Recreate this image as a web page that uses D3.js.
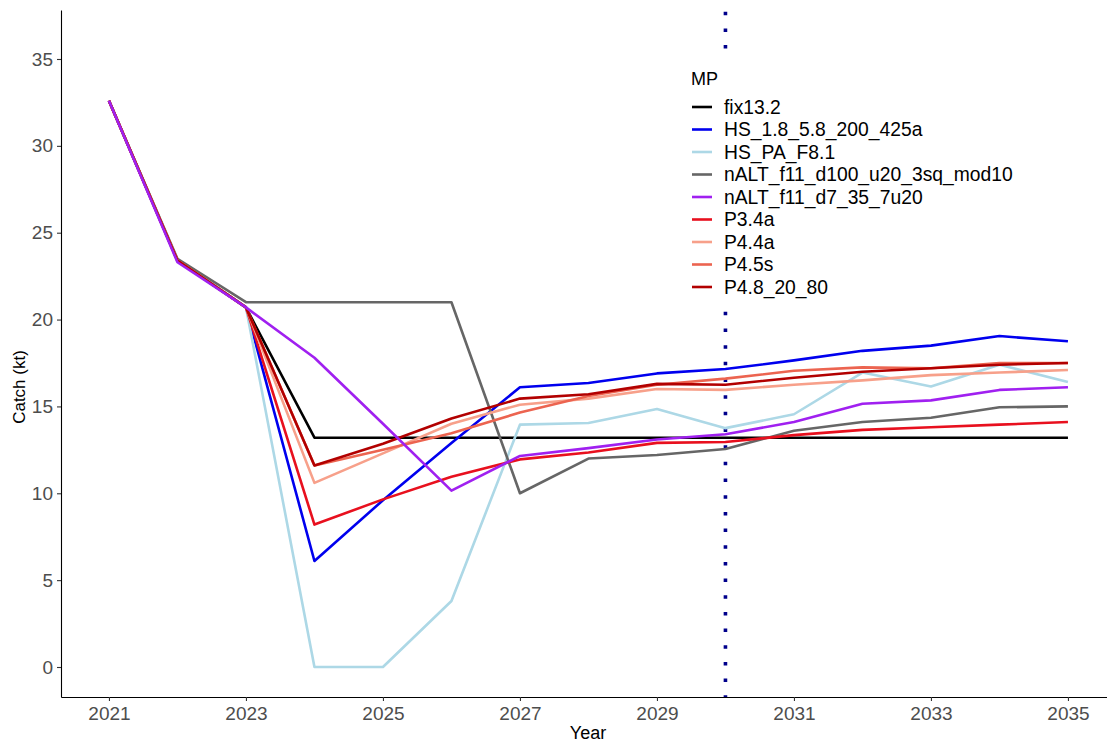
<!DOCTYPE html>
<html>
<head>
<meta charset="utf-8">
<script src="https://cdn.jsdelivr.net/npm/d3@7"></script>
<style>
  html, body { margin: 0; padding: 0; background: #fff; }
  svg { display: block; font-family: "Liberation Sans", Arial, sans-serif; }
</style>
</head>
<body>
<svg id="chart" width="1107" height="744"></svg>
<script>
// Projected catch (kt) by management procedure
const years = [2021, 2022, 2023, 2024, 2025, 2026, 2027, 2028, 2029, 2030, 2031, 2032, 2033, 2034, 2035];

const mpNames = [
  "fix13.2",
  "HS_1.8_5.8_200_425a",
  "HS_PA_F8.1",
  "nALT_f11_d100_u20_3sq_mod10",
  "nALT_f11_d7_35_7u20",
  "P3.4a",
  "P4.4a",
  "P4.5s",
  "P4.8_20_80"
];

const fix13_2     = [32.6, 23.4, 20.7, 13.2, 13.2, 13.2, 13.2, 13.2, 13.2, 13.2, 13.2, 13.2, 13.2, 13.2, 13.2];
const hs_1_8      = [32.6, 23.4, 20.7, 6.1, 9.6, 12.9, 16.1, 16.35, 16.9, 17.15, 17.65, 18.2, 18.5, 19.05, 18.75];
const hs_pa_f8_1  = [32.6, 23.4, 20.7, 0.0, 0.0, 3.8, 13.95, 14.05, 14.85, 13.75, 14.55, 16.95, 16.15, 17.4, 16.4];
const nalt_d100   = [32.6, 23.5, 21.0, 21.0, 21.0, 21.0, 10.0, 12.0, 12.2, 12.55, 13.6, 14.1, 14.35, 14.95, 15.0];
const nalt_d7     = [32.6, 23.3, 20.7, 17.8, 14.0, 10.15, 12.15, 12.6, 13.1, 13.4, 14.1, 15.15, 15.35, 15.95, 16.1];
const p3_4a       = [32.6, 23.4, 20.7, 8.2, 9.65, 10.95, 11.95, 12.35, 12.9, 12.95, 13.35, 13.65, 13.8, 13.95, 14.1];
const p4_4a       = [32.6, 23.4, 20.7, 10.6, 12.3, 14.0, 15.1, 15.45, 16.0, 15.95, 16.25, 16.5, 16.8, 16.95, 17.1];
const p4_5s       = [32.6, 23.4, 20.7, 11.6, 12.5, 13.45, 14.65, 15.6, 16.25, 16.6, 17.05, 17.25, 17.2, 17.5, 17.5];
const p4_8_20_80  = [32.6, 23.4, 20.7, 11.6, 12.85, 14.3, 15.45, 15.7, 16.3, 16.25, 16.65, 17.0, 17.2, 17.4, 17.5];

const seriesValues = [fix13_2, hs_1_8, hs_pa_f8_1, nalt_d100, nalt_d7, p3_4a, p4_4a, p4_5s, p4_8_20_80];
const mpColors = ["#000000", "#0000EE", "#ADD8E6", "#666666", "#A020F0", "#E8101E", "#F7A08A", "#EC6450", "#B20000"];
// stacking order of the lines (purple sits on top)
const drawOrder = [0, 1, 2, 3, 5, 6, 7, 8, 4];

const yTicks = [0, 5, 10, 15, 20, 25, 30, 35];
const xTicks = [2021, 2023, 2025, 2027, 2029, 2031, 2033, 2035];
const markerYear = 2030;

const svg = d3.select("#chart");

const x = d3.scaleLinear().domain([2020.3, 2035.7]).range([61, 1115.9]);
const y = d3.scaleLinear().domain([-1.727, 37.82]).range([697, 10]);

// vertical dotted reference line
svg.append("line")
  .attr("x1", x(markerYear)).attr("x2", x(markerYear))
  .attr("y1", y.range()[0]).attr("y2", y.range()[1])
  .attr("stroke", "#00008B")
  .attr("stroke-width", 3.6)
  .attr("stroke-dasharray", "3.5 13.17")
  .attr("stroke-dashoffset", 1.75);

// series lines
const line = d3.line().x((d, i) => x(years[i])).y(d => y(d));
svg.append("g").selectAll("path")
  .data(drawOrder)
  .join("path")
  .attr("d", k => line(seriesValues[k]))
  .attr("fill", "none")
  .attr("stroke", k => mpColors[k])
  .attr("stroke-width", 2.6)
  .attr("stroke-linejoin", "round");

// axes
const yAxis = svg.append("g")
  .attr("transform", "translate(61,0)")
  .call(d3.axisLeft(y).tickValues(yTicks).tickSize(4).tickPadding(4).tickSizeOuter(0));
const xAxis = svg.append("g")
  .attr("transform", "translate(0,697)")
  .call(d3.axisBottom(x).tickValues(xTicks).tickFormat(d3.format("d")).tickSize(4).tickPadding(6).tickSizeOuter(0));

[yAxis, xAxis].forEach(g => {
  g.select(".domain").attr("stroke", "#000").attr("stroke-width", 1.1);
  g.selectAll(".tick line").attr("stroke", "#333").attr("stroke-width", 1.1);
  g.selectAll(".tick text").attr("fill", "#4D4D4D").style("font-size", "19px")
    .style("font-family", "'Liberation Sans', Arial, sans-serif");
});

// axis titles
svg.append("text")
  .attr("x", 588).attr("y", 739)
  .attr("text-anchor", "middle")
  .style("font-size", "18px")
  .attr("fill", "#000")
  .text("Year");
svg.append("text")
  .attr("transform", "translate(25,387) rotate(-90)")
  .attr("text-anchor", "middle")
  .style("font-size", "17px")
  .attr("fill", "#000")
  .text("Catch (kt)");

// legend with white background
const legend = svg.append("g");
legend.append("rect")
  .attr("x", 680).attr("y", 52)
  .attr("width", 350).attr("height", 247)
  .attr("fill", "#fff");
legend.append("text")
  .attr("x", 691).attr("y", 85)
  .style("font-size", "18px")
  .attr("fill", "#000")
  .text("MP");
const rows = legend.selectAll("g.row")
  .data(mpNames)
  .join("g")
  .attr("class", "row")
  .attr("transform", (d, i) => `translate(0,${107 + i * 22.5})`);
rows.append("line")
  .attr("x1", 692).attr("x2", 712)
  .attr("y1", 0).attr("y2", 0)
  .attr("stroke", (d, i) => mpColors[i])
  .attr("stroke-width", 2.6);
rows.append("text")
  .attr("x", 724).attr("y", 0)
  .attr("dy", "0.35em")
  .style("font-size", "19.3px")
  .attr("fill", "#000")
  .text(d => d);
</script>
</body>
</html>
